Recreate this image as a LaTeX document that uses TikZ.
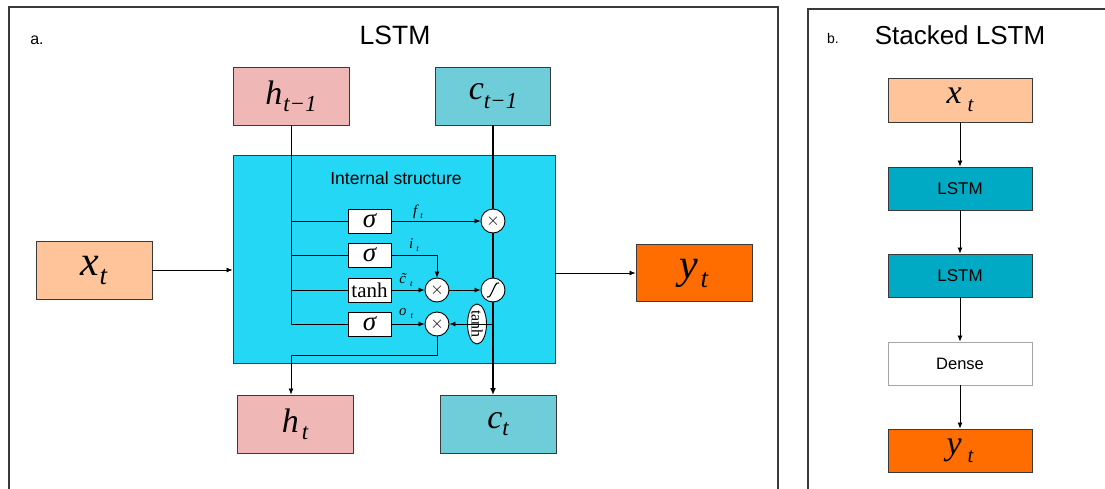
\documentclass[tikz,border=0pt]{standalone}
\usepackage{fontspec}
\setmainfont{Liberation Serif}
\setsansfont{Liberation Sans}
\usetikzlibrary{arrows.meta,shapes.geometric}
\definecolor{hpink}{HTML}{F0B7B7}
\definecolor{cteal}{HTML}{6FCDD9}
\definecolor{icyan}{HTML}{24D7F4}
\definecolor{xpeach}{HTML}{FFC499}
\definecolor{yorange}{HTML}{FF6D00}
\definecolor{lstmb}{HTML}{00AAC4}
\definecolor{edgec}{HTML}{3A3A3A}
\newcommand{\mysub}[6]{{\fontsize{#3}{#3}\selectfont\itshape #1}\kern#6\raisebox{#5}{\fontsize{#4}{#4}\selectfont\itshape #2}}
\tikzset{
  bigbox/.style={draw=edgec, line width=0.9pt, minimum width=116pt, minimum height=58pt, inner sep=0pt},
  sbox/.style={draw=edgec, line width=0.9pt, minimum width=144pt, minimum height=43pt, inner sep=0pt},
  gatebox/.style={draw=black, fill=white, line width=0.9pt, minimum width=43pt, minimum height=24pt, inner sep=0pt},
  opc/.style={circle, draw=black, fill=white, minimum size=24pt, inner sep=0pt, line width=0.9pt},
  wire/.style={line width=0.8pt},
  conn/.style={line width=0.8pt, -{Latex[length=6pt,width=5pt]}},
  lab/.style={inner sep=0pt},
  frame/.style={draw=edgec, line width=1.4pt}
}
\begin{document}
\begin{tikzpicture}[x=1pt,y=-1pt]
\useasboundingbox (0,0) rectangle (1105,488);
\clip (0,0) rectangle (1105,488);
\fill[white] (0,0) rectangle (1105,488);
% frames
\draw[frame] (9,495) -- (9,7) -- (778,7) -- (778,495);
\draw[frame] (808,495) -- (808,9) -- (1112,9);
% panel a titles
\node[lab, font=\sffamily\fontsize{16pt}{16pt}\selectfont] (alab) at (37,40) {a.};
\node[lab, font=\sffamily\fontsize{26.5pt}{26.5pt}\selectfont] (atitle) at (395,35) {LSTM};
% big boxes
\node[bigbox, fill=hpink] (hprev) at (291,96) {\mysub{h}{t−1}{34pt}{23pt}{-7pt}{1pt}};
\node[bigbox, fill=cteal, minimum width=115pt] (cprev) at (493,96) {\mysub{c}{t−1}{34pt}{23pt}{-9pt}{0pt}};
\node[draw=edgec, fill=icyan, line width=0.9pt, minimum width=322pt, minimum height=208pt, inner sep=0pt] (int) at (394,259) {};
\node[lab, font=\sffamily\fontsize{17.5pt}{17.5pt}\selectfont] (intlab) at (396,178) {Internal structure};
\node[bigbox, fill=xpeach] (xt) at (94,270) {\mysub{x}{t}{42pt}{27pt}{-9pt}{0pt}};
\node[bigbox, fill=yorange, minimum height=57pt] (yt) at (694,273) {\mysub{y}{t}{42pt}{27pt}{-9pt}{2pt}};
\node[bigbox, fill=hpink] (ht) at (295,424) {\mysub{h}{t}{34pt}{23pt}{-7pt}{3pt}};
\node[bigbox, fill=cteal] (ct) at (498,424) {\mysub{c}{t}{34pt}{23pt}{-7pt}{0pt}};
% gates
\node[gatebox] (g1) at (369.5,221) {\fontsize{27pt}{27pt}\selectfont\itshape σ};
\node[gatebox] (g2) at (369.5,255) {\fontsize{27pt}{27pt}\selectfont\itshape σ};
\node[gatebox] (g3) at (369.5,290) {\fontsize{21pt}{21pt}\selectfont tanh};
\node[gatebox] (g4) at (369.5,324) {\fontsize{27pt}{27pt}\selectfont\itshape σ};
% h_{t-1} bus
\coordinate (busend) at (291,324);
\draw[wire] (hprev.south) -- (busend);
\draw[wire] (291,221) -- (g1.west);
\draw[wire] (291,255) -- (g2.west);
\draw[wire] (291,290) -- (g3.west);
\draw[wire] (busend) -- (g4.west);
% cell line
\coordinate (cellbot) at (493,395);
\draw[line width=1.8pt, -{Latex[length=7pt,width=6pt]}] (cprev.south) -- (cellbot);
% operators
\node[opc] (fx) at (493,221) {\fontsize{18pt}{18pt}\selectfont$\times$};
\node[opc] (ix) at (437,290) {\fontsize{18pt}{18pt}\selectfont$\times$};
\node[opc] (ig) at (493,290) {};
\draw[line width=1.1pt, shift={(ig.center)}] (-6,7) .. controls (-3,8) and (-2,4) .. (0,0) .. controls (2,-4) and (3,-8) .. (6,-7);
\node[opc] (ox) at (437,324) {\fontsize{18pt}{18pt}\selectfont$\times$};
\coordinate (tap) at (493,324);
\draw[wire] (tap) -- (470,324);
\node[ellipse, draw=black, fill=white, line width=0.9pt, rotate=-90, minimum width=40pt, minimum height=19pt, inner sep=0pt] (th) at (477,324) {\fontsize{16pt}{16pt}\selectfont tanh};
% gate connectors
\draw[conn] (g1.east) -- (fx.west);
\draw[conn] (g2.east) -| (ix.north);
\draw[conn] (g3.east) -- (ix.west);
\draw[conn] (ix.east) -- (ig.west);
\draw[conn] (g4.east) -- (ox.west);
\draw[conn] (th.north) -- (ox.east);
\coordinate (bend) at (291,355);
\draw[conn] (ox.south) |- (bend) -- (bend |- ht.north);
% labels
\node[lab] (flab) at (418,212) {\mysub{f}{t}{15pt}{9pt}{-3pt}{3pt}};
\node[lab] (ilab) at (414,245) {\mysub{i}{t}{15pt}{9pt}{-3pt}{3pt}};
\node[lab] (clab) at (406,280) {\mysub{\~{c}}{t}{15pt}{9pt}{-3pt}{4pt}};
\node[lab] (olab) at (406,314) {\mysub{o}{t}{15pt}{9pt}{-3pt}{4pt}};
% in/out
\draw[conn] (xt.east) -- (xt.east -| int.west);
\draw[conn] (int.east |- yt.west) -- (yt.west);
% panel b
\node[lab, font=\sffamily\fontsize{14pt}{14pt}\selectfont] (blab) at (833,38) {b.};
\node[lab, font=\sffamily\fontsize{26pt}{26pt}\selectfont] (btitle) at (960,35) {Stacked LSTM};
\node[sbox, fill=xpeach, minimum height=44pt] (bx) at (960,100) {\mysub{x}{t}{34pt}{21pt}{-8pt}{6pt}};
\node[sbox, fill=lstmb, font=\sffamily\fontsize{17pt}{17pt}\selectfont] (bl1) at (960,188.5) {LSTM};
\node[sbox, fill=lstmb, font=\sffamily\fontsize{17pt}{17pt}\selectfont] (bl2) at (960,275.5) {LSTM};
\node[sbox, fill=white, draw=gray!70, font=\sffamily\fontsize{16.5pt}{16.5pt}\selectfont] (bd) at (960,363.5) {Dense};
\node[sbox, fill=yorange] (by) at (960,450.5) {\mysub{y}{t}{34pt}{21pt}{-8pt}{6pt}};
\draw[conn] (bx.south) -- (bl1.north);
\draw[conn] (bl1.south) -- (bl2.north);
\draw[conn] (bl2.south) -- (bd.north);
\draw[conn] (bd.south) -- (by.north);
\end{tikzpicture}
\end{document}
